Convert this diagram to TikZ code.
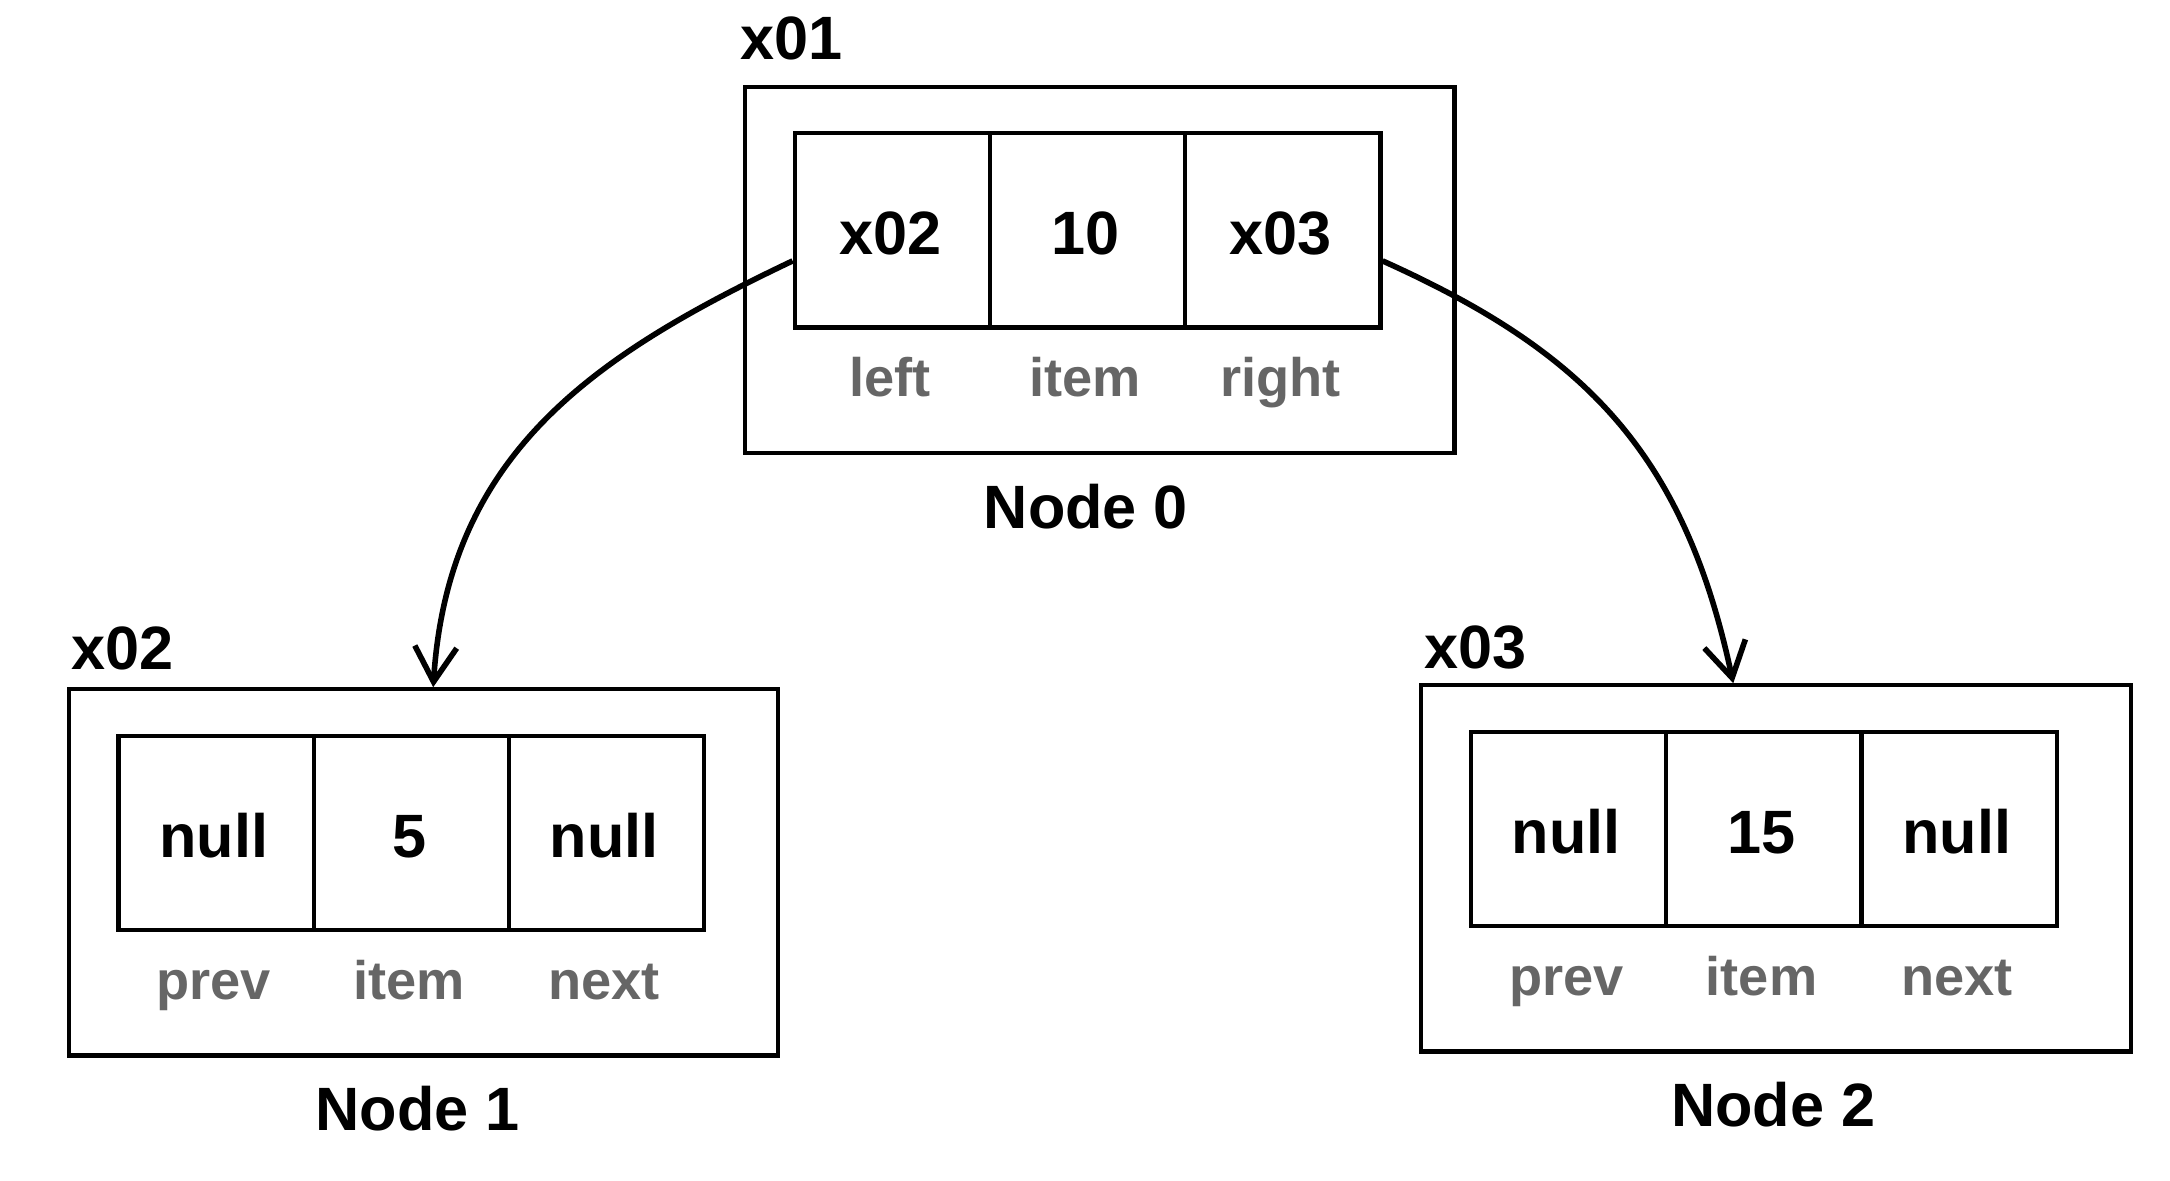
\documentclass[tikz,border=0pt]{standalone}
\usepackage{fontspec}
\setmainfont{Liberation Sans}
\usetikzlibrary{arrows.meta}
\definecolor{labelgrey}{HTML}{666666}
\tikzset{
  outerbox/.style={draw, line width=1.2pt, minimum width=7.13cm, minimum height=3.68cm, inner sep=0pt, anchor=north west},
  cellbox/.style={draw, line width=1.2pt, minimum width=1.963cm, minimum height=1.95cm, inner sep=0pt, anchor=north west},
  valtext/.style={font=\bfseries\fontsize{17.5}{20}\selectfont, anchor=base, inner sep=0pt},
  fieldtext/.style={font=\bfseries\fontsize{15.5}{18}\selectfont, text=labelgrey, anchor=base, inner sep=0pt},
  addrtext/.style={font=\bfseries\fontsize{17.5}{20}\selectfont, anchor=base west, inner sep=0pt},
  ptr/.style={line width=1.6pt, -{Straight Barb[length=10pt,width=12pt]}}
}
% #1 name, #2 X, #3 Y, #4-#6 values, #7 caption x, #8 caption
\newcommand{\drawstruct}[8]{%
  \node[outerbox] (#1) at (#2,#3) {};
  \node[cellbox] (#1a) at ({#2+50},{#3+47}) {};
  \node[cellbox] (#1b) at ({#2+246.3},{#3+47}) {};
  \node[cellbox] (#1c) at ({#2+442.6},{#3+47}) {};
  \node[valtext] (#1va) at ({#2+148},{#3+171}) {#4};
  \node[valtext] (#1vb) at ({#2+344.3},{#3+171}) {#5};
  \node[valtext] (#1vc) at ({#2+540.6},{#3+171}) {#6};
  \node[valtext] (#1cap) at (#7,{#3+446}) {#8};
}
% #1 name, #2 X, #3 Y, #4-#6 field names
\newcommand{\drawfields}[6]{%
  \node[fieldtext] (#1fa) at ({#2+148},{#3+314}) {#4};
  \node[fieldtext] (#1fb) at ({#2+344.3},{#3+314}) {#5};
  \node[fieldtext] (#1fc) at ({#2+540.6},{#3+314}) {#6};
}
\begin{document}
\begin{tikzpicture}[x=0.01cm, y=-0.01cm]
  \useasboundingbox (0,0) rectangle (2182,1187);
  \drawstruct{s0}{747}{85}{x02}{10}{x03}{1092}{Node 0}
  \drawfields{s0}{747}{85}{left}{item}{right}
  \node[addrtext] (s0addr) at (744,60) {x01};
  \drawstruct{s1}{67}{691}{null}{5}{null}{420}{Node 1}
  \drawfields{s1}{67}{691}{prev}{item}{next}
  \node[addrtext] (s1addr) at (71,673) {x02};
  \drawstruct{s2}{1427}{687}{null}{15}{null}{1783}{Node 2}
  \drawfields{s2}{1427}{687}{prev}{item}{next}
  \node[addrtext] (s2addr) at (1432,672) {x03};
  \draw[ptr] (s0a.197) .. controls +(-200,95) and +(15,-235) .. (s1.87);
  \draw[ptr] (s0c.343) .. controls +(200,90) and +(-50,-235) .. (s2.103);
\end{tikzpicture}
\end{document}
